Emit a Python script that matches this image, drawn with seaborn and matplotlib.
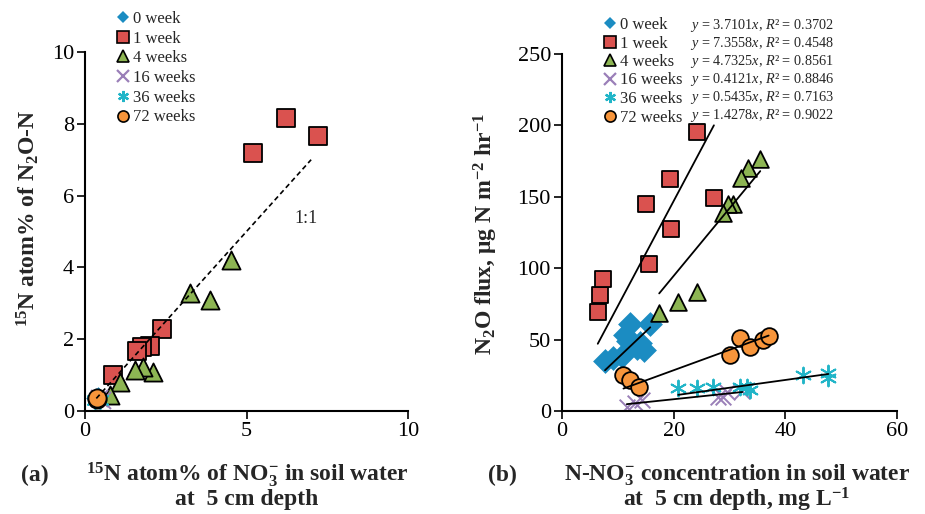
import numpy as np
import pandas as pd
import matplotlib
matplotlib.use("Agg")
import matplotlib.pyplot as plt
import seaborn as sns
from matplotlib.lines import Line2D

sns.set_theme(style="white")
plt.rcParams['font.family'] = ['Liberation Serif', 'DejaVu Serif']
plt.rcParams['mathtext.fontset'] = 'custom'
plt.rcParams['mathtext.rm'] = 'Liberation Serif'
plt.rcParams['mathtext.it'] = 'Liberation Serif:italic'
plt.rcParams['mathtext.bf'] = 'Liberation Serif:bold'

# ---- series ----
groups = ['0 week', '1 week', '4 weeks', '16 weeks', '36 weeks', '72 weeks']
colors = ['#1b8cc2', '#da524f', '#8db553', '#9a7fb8', '#21b5c8', '#f7953b']
markers = ['D', 's', '^', 'x', (6, 2, 0), 'o']

# panel (a): 15N atom% of NO3- (x) vs 15N atom% of N2O-N (y)
a_x = {
    '0 week': [0.35, 0.4],
    '1 week': [6.22, 7.2, 5.21, 2.39, 2.0, 1.75, 1.6, 0.88],
    '4 weeks': [4.51, 3.25, 3.87, 2.11, 1.8, 1.55, 1.08, 0.77],
    '16 weeks': [0.42, 0.52],
    '36 weeks': [0.3, 0.45],
    '72 weeks': [0.36, 0.37],
}
a_y = {
    '0 week': [0.35, 0.38],
    '1 week': [8.17, 7.67, 7.18, 2.28, 1.82, 1.78, 1.68, 1.0],
    '4 weeks': [4.22, 3.28, 3.09, 1.09, 1.23, 1.14, 0.82, 0.45],
    '16 weeks': [0.35, 0.32],
    '36 weeks': [0.3, 0.32],
    '72 weeks': [0.34, 0.36],
}

# panel (b): N-NO3- concentration (x) vs N2O flux (y)
b_x = {
    '0 week': [7.7, 9.2, 10.7, 12.2, 11.3, 11.9, 14.0, 14.6, 13.4, 15.8],
    '1 week': [6.4, 6.8, 7.3, 15.6, 19.5, 15.0, 19.4, 27.2, 24.1],
    '4 weeks': [35.5, 33.3, 32.0, 30.7, 29.8, 28.9, 24.1, 20.7, 17.4],
    '16 weeks': [11.6, 13.1, 14.3, 28.0, 28.9, 29.5, 32.3],
    '36 weeks': [20.8, 24.1, 27.1, 31.9, 33.1, 33.7, 43.1, 47.7, 47.7],
    '72 weeks': [11.0, 12.2, 13.7, 30.0, 31.9, 33.7, 36.0, 37.0],
}
b_y = {
    '0 week': [34.7, 37.0, 38.2, 60.6, 53.5, 48.8, 47.7, 43.0, 44.0, 60.6],
    '1 week': [69.5, 81.2, 92.3, 102.8, 127.5, 145.0, 162.7, 149.3, 195.5],
    '4 weeks': [176.8, 170.2, 163.0, 145.0, 145.0, 139.0, 83.6, 76.3, 68.8],
    '16 weeks': [3.0, 5.8, 7.7, 10.0, 10.0, 13.6, 14.0],
    '36 weeks': [16.0, 16.0, 17.1, 17.0, 17.0, 14.8, 25.4, 26.5, 23.0],
    '72 weeks': [25.4, 21.8, 17.1, 39.4, 51.2, 44.8, 50.0, 52.8],
}
slopes = [3.7101, 7.3558, 4.7325, 0.4121, 0.5435, 1.4278]
r2 = [0.3702, 0.4548, 0.8561, 0.8846, 0.7163, 0.9022]

fig = plt.figure(figsize=(9.25, 5.14), dpi=100)
ax1 = fig.add_axes([0.0919, 0.2004, 0.3492, 0.6984])
ax2 = fig.add_axes([0.6076, 0.2004, 0.3622, 0.6945])


def draw_points(ax, xs, ys, size_scale=1.0, diamond=110):
    for g, c, m in zip(groups, colors, markers):
        df = pd.DataFrame({'x': xs[g], 'y': ys[g]})
        if m == 'x' or isinstance(m, tuple):
            sns.scatterplot(data=df, x='x', y='y', ax=ax, marker=m, color=c,
                            s=150 * size_scale, linewidth=1.4, legend=False)
        elif m == 'D':
            sns.scatterplot(data=df, x='x', y='y', ax=ax, marker=m, color=c,
                            s=diamond, linewidth=0, legend=False)
        else:
            sns.scatterplot(data=df, x='x', y='y', ax=ax, marker=m, color=c,
                            s=170 * size_scale, edgecolor='black', linewidth=1.3,
                            legend=False)


# ---- panel (a) ----
draw_points(ax1, a_x, a_y)
ax1.plot([0.35, 7.0], [0.35, 7.0], color='black', linestyle=(0, (3, 2)), lw=1.2)
ax1.text(6.85, 5.35, '1:1', fontsize=13, ha='center', va='center')
ax1.set_xlim(0, 10)
ax1.set_ylim(0, 10)
ax1.set_xticks([0, 5, 10])
ax1.set_yticks([0, 2, 4, 6, 8, 10])

# ---- panel (b) ----
draw_points(ax2, b_x, b_y, size_scale=0.85, diamond=160)
for g, k in zip(groups, slopes):
    xr = np.array([min(b_x[g]), max(b_x[g])])
    ax2.plot(xr, k * xr, color='black', lw=1.3)
ax2.set_xlim(0, 60)
ax2.set_ylim(0, 250)
ax2.set_xticks([0, 20, 40, 60])
ax2.set_yticks([0, 50, 100, 150, 200, 250])

for ax in (ax1, ax2):
    ax.set_xlabel('')
    ax.set_ylabel('')
    sns.despine(ax=ax)
    for s in ('left', 'bottom'):
        ax.spines[s].set_color('black')
        ax.spines[s].set_linewidth(1.5)
    ax.tick_params(axis='both', direction='out', length=6, width=1.2,
                   color='black', labelsize=16, labelcolor='black', pad=2,
                   bottom=True, left=True)
    ax.grid(False)

# ---- legends ----
handles = []
for g, c, m in zip(groups, colors, markers):
    if m == 'x' or isinstance(m, tuple):
        h = Line2D([], [], linestyle='none', marker=m, color=c, markersize=8,
                   markeredgewidth=1.6)
    elif m == 'D':
        h = Line2D([], [], linestyle='none', marker=m, color=c, markersize=6.5,
                   markeredgewidth=0)
    else:
        h = Line2D([], [], linestyle='none', marker=m, markerfacecolor=c,
                   markeredgecolor='black', markersize=8, markeredgewidth=1.2)
    handles.append(h)

fig.legend(handles, groups, loc='upper left', bbox_to_anchor=(116 / 925, 1 - 11 / 514),
           frameon=False, fontsize=12, handlelength=0.8, handletextpad=0.2,
           labelspacing=0.22, borderpad=0, borderaxespad=0)
fig.legend(handles, groups, loc='upper left', bbox_to_anchor=(603 / 925, 1 - 17 / 514),
           frameon=False, fontsize=12, handlelength=0.8, handletextpad=0.2,
           labelspacing=0.15, borderpad=0, borderaxespad=0)

for i, (k, r) in enumerate(zip(slopes, r2)):
    fig.text(690 / 925, 1 - (25 + i * 18.1) / 514,
             f'$y$ = {k:.4f}$x$, $R$² = {r:.4f}', fontsize=10.3, va='center', ha='left')

# ---- axis titles ----
lab = dict(fontsize=17, fontweight='bold', ha='center', va='center')
fig.text(28 / 925, 1 - 218 / 514, r'$\mathbf{^{15}}$N atom% of N$_\mathbf{2}$O-N',
         rotation=90, **lab)
fig.text(486 / 925, 1 - 234 / 514,
         r'N$_\mathbf{2}$O flux, μg N m$^\mathbf{-2}$ hr$^\mathbf{-1}$',
         rotation=90, **lab)

fig.text(35 / 925, 1 - 475 / 514, '(a)', **lab)
fig.text(247 / 925, 1 - 475 / 514,
         r'$\mathbf{^{15}}$N atom% of NO$_\mathbf{3}^\mathbf{-}$ in soil water', **lab)
fig.text(247 / 925, 1 - 500 / 514, 'at  5 cm depth', **lab)

fig.text(502 / 925, 1 - 475 / 514, '(b)', **lab)
fig.text(737 / 925, 1 - 475 / 514,
         r'N-NO$_\mathbf{3}^\mathbf{-}$ concentration in soil water', **lab)
fig.text(737 / 925, 1 - 500 / 514, r'at  5 cm depth, mg L$^\mathbf{-1}$', **lab)

fig.savefig('out.png', dpi=100)
